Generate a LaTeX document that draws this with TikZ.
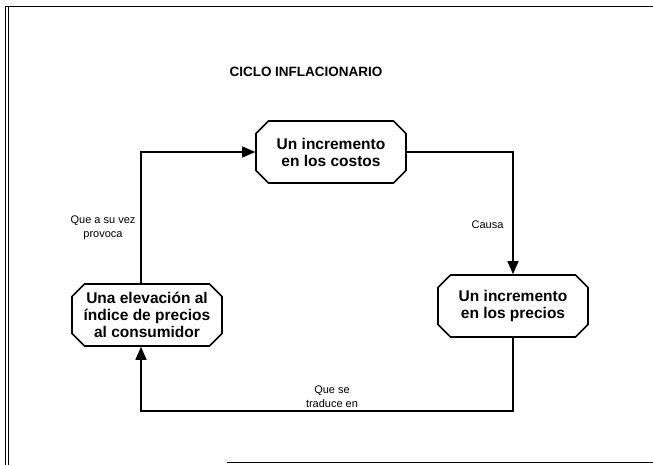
\documentclass[tikz,border=0pt]{standalone}
\usepackage{fontspec}
\setmainfont{Liberation Sans}
\usetikzlibrary{shapes.misc,arrows.meta}

\begin{document}
\begin{tikzpicture}[x=1pt, y=-1pt, >={Triangle[length=13pt,width=11pt]}]
  \tikzset{
    caja/.style={chamfered rectangle, chamfered rectangle xsep=9pt, draw=black,
      line width=1.6pt, minimum width=150pt, minimum height=62pt, inner sep=0pt,
      align=center, font=\fontsize{15.5}{17}\selectfont\bfseries},
    flecha/.style={line width=1.2pt},
    rotulo/.style={align=center, font=\fontsize{11}{14}\selectfont}
  }
  \useasboundingbox (0,0) rectangle (653,465);

  % 1. Marco de la hoja
  \draw[line width=1pt] (5,7) -- (5,465);
  \draw[line width=1pt] (8,7) -- (8,465);
  \draw[line width=1pt] (5,7) -- (653,7);
  \draw[line width=0.8pt] (227,462) -- (653,462);

  % 2. Titulo
  \node[font=\fontsize{13.5}{16}\selectfont\bfseries] (titulo) at (306,72) {CICLO INFLACIONARIO};

  % 3. Las tres etapas del ciclo
  \node[caja] (costos) at (331,152) {Un incremento\\en los costos};
  \node[caja] (precios) at (513,306) {Un incremento\\en los precios};
  \node[caja] (indice) at (147,315) {Una elevaci\'on al\\\'indice de precios\\al consumidor};

  % 4. Conectores
  \coordinate (esq) at (141,411);
  \draw[flecha, ->] (costos.east) -| (precios.north);
  \draw[flecha, ->] (precios.south) |- (esq) -- (esq |- indice.south);
  \draw[flecha, ->] (esq |- indice.north) |- (costos.west);

  % 5. Rotulos de los conectores
  \node[rotulo, anchor=east] (causa) at (507,225) {Causa};
  \node[rotulo] (provoca) at (103,228) {Que a su vez\\provoca};
  \node[rotulo] (traduce) at (332,397) {Que se\\traduce en};

\end{tikzpicture}
\end{document}
